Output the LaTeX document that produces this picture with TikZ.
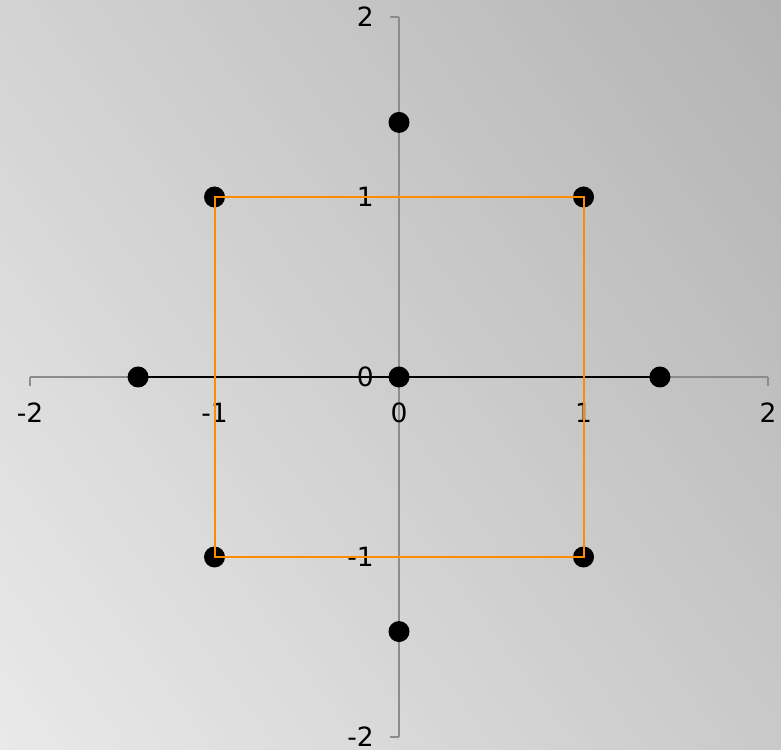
\documentclass[tikz,border=0pt]{standalone}
\usepackage{fontspec}
\setmainfont{DejaVu Sans}
\definecolor{bgLight}{HTML}{E9E9E9}
\definecolor{bgDark}{HTML}{B3B3B3}
\definecolor{axisgray}{HTML}{8C8C8C}
\definecolor{sqorange}{HTML}{FF8C00}
\tikzset{
  axisline/.style={draw=axisgray, line width=1.5pt},
  xlab/.style={anchor=north, inner sep=0pt, yshift=-26pt, font=\fontsize{26.5}{30}\selectfont},
  ylab/.style={anchor=east, inner sep=0pt, xshift=-25pt, font=\fontsize{26.5}{30}\selectfont},
  dot/.style={circle, fill=black, minimum size=21pt, inner sep=0pt},
  blackline/.style={draw=black, line width=2.5pt},
  square/.style={draw=sqorange, line width=2pt}
}
\begin{document}
\begin{tikzpicture}[x=1pt,y=1pt]
\useasboundingbox (0,0) rectangle (781,749);
\begin{scope}
  \clip (0,0) rectangle (781,749);
  \begin{scope}[rotate=36.4]
    \foreach \i in {0,...,79} {
      \pgfmathsetmacro\p{(\i+0.5)*1.25}
      \fill[bgDark!\p!bgLight] (\i*13.4125,-480) rectangle ({(\i+1)*13.4125+1.5},620);
    }
  \end{scope}
\end{scope}
\begin{scope}[shift={(399,372)}, x=184.5pt, y=180pt]
  % axes
  \draw[axisline] (-2,0) -- (2,0);
  \foreach \u in {-2,...,2} \draw[axisline] (\u,0) -- ++(0,-9pt);
  \draw[axisline] (0,-2) -- (0,2);
  \foreach \v in {-2,...,2} \draw[axisline] (0,\v) -- ++(-9pt,0);
  % labels
  \foreach \u in {-2,...,2} \node[xlab] (xl\u) at (\u,0) {\u};
  \foreach \v in {-2,...,2} \node[ylab] (yl\v) at (0,\v) {\v};
  % points
  \coordinate (cL) at (-1.4142,0);
  \coordinate (cR) at (1.4142,0);
  \draw[blackline] (cL) -- (cR);
  \node[dot] (pL) at (cL) {};
  \node[dot] (pR) at (cR) {};
  \node[dot] (pO) at (0,0) {};
  \node[dot] (pT) at (0,1.4142) {};
  \node[dot] (pB) at (0,-1.4142) {};
  \node[dot] (q1) at (1,1) {};
  \node[dot] (q2) at (-1,1) {};
  \node[dot] (q3) at (-1,-1) {};
  \node[dot] (q4) at (1,-1) {};
  \draw[square] (q1.center) -- (q2.center) -- (q3.center) -- (q4.center) -- cycle;
\end{scope}
\end{tikzpicture}
\end{document}
